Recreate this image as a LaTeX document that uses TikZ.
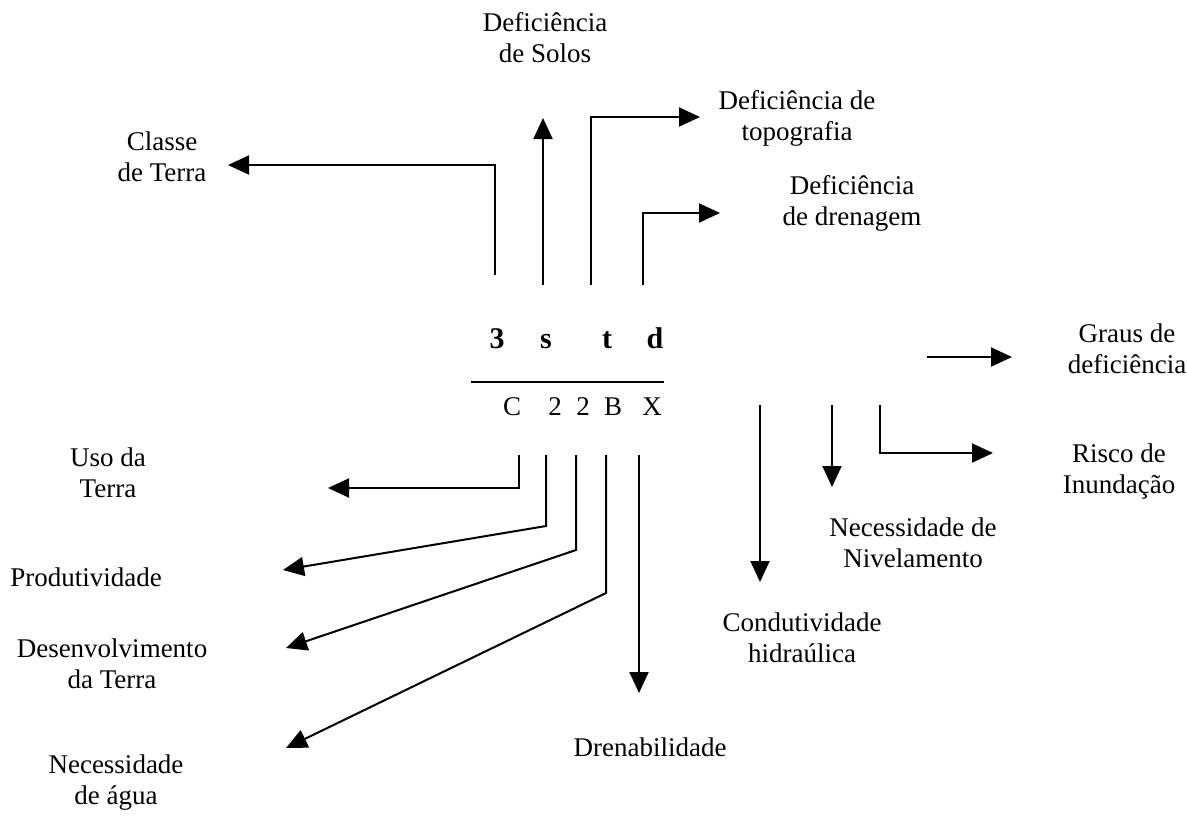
\documentclass[tikz,border=0pt]{standalone}
\usepackage{fontspec}
\setmainfont{Liberation Serif}
\usetikzlibrary{arrows.meta}
\begin{document}
\begin{tikzpicture}[x=0.5pt,y=-0.5pt,
  lbl/.style={font=\fontsize{13.5}{15.5}\selectfont, align=center, inner sep=0pt},
  code/.style={font=\fontsize{15}{18}\selectfont\bfseries, anchor=base, inner sep=0pt},
  sub/.style={font=\fontsize{13.5}{16}\selectfont, anchor=base, inner sep=0pt},
  conn/.style={line width=1pt, -{Triangle[length=10.5pt,width=9.5pt]}},
  bar/.style={line width=1pt}]
\useasboundingbox (0,0) rectangle (1187,815);

% code letters
\node[code] (c3) at (497,348) {3};
\node[code] (cs) at (546,348) {s};
\node[code] (ct) at (607,348) {t};
\node[code] (cd) at (655,348) {d};
\coordinate (barL) at (471,382);
\coordinate (barR) at (664,382);
\draw[bar] (barL) -- (barR);
\node[sub] (sC) at (512,415) {C};
\node[sub] (s2a) at (555,415) {2};
\node[sub] (s2b) at (583,415) {2};
\node[sub] (sB) at (613,415) {B};
\node[sub] (sX) at (652,415) {X};

% labels
\node[lbl] (classe) at (162,157) {Classe\\de Terra};
\node[lbl] (solos) at (545,38) {Deficiência\\de Solos};
\node[lbl] (topo) at (797,118) {Deficiência de\\topografia};
\node[lbl] (dren) at (852,203) {Deficiência\\de drenagem};
\node[lbl] (graus) at (1127,349) {Graus de\\deficiência};
\node[lbl] (risco) at (1119,471) {Risco de\\Inundação};
\node[lbl] (nivel) at (913,543) {Necessidade de\\Nivelamento};
\node[lbl] (condut) at (802,638) {Condutividade\\hidraúlica};
\node[lbl] (drenab) at (650,747) {Drenabilidade};
\node[lbl] (uso) at (108,473) {Uso da\\Terra};
\node[lbl] (prod) at (86,577) {Produtividade};
\node[lbl] (desenv) at (112,664) {Desenvolvimento\\da Terra};
\node[lbl] (neces) at (116,783) {Necessidade\\de água};

% connector coordinates
\coordinate (a1) at (495,275); \coordinate (e1) at (228,165);
\coordinate (a2) at (543,285); \coordinate (e2) at (543,118);
\coordinate (a3) at (591,285); \coordinate (e3) at (700,117);
\coordinate (a4) at (643,285); \coordinate (e4) at (720,213);
\coordinate (a5) at (927,357); \coordinate (e5) at (1012,357);
\coordinate (a6) at (760,405); \coordinate (e6) at (760,582);
\coordinate (a7) at (832,405); \coordinate (e7) at (832,487);
\coordinate (a8) at (880,405); \coordinate (e8) at (993,453);
\coordinate (b1) at (519,455); \coordinate (f1) at (328,488);
\coordinate (b2) at (546,455); \coordinate (k2) at (546,526); \coordinate (f2) at (283,570);
\coordinate (b3) at (576,455); \coordinate (k3) at (576,550); \coordinate (f3) at (286,648);
\coordinate (b4) at (606,455); \coordinate (k4) at (606,593); \coordinate (f4) at (286,748);
\coordinate (b5) at (639,455); \coordinate (f5) at (639,693);

\draw[conn] (a1) |- (e1);
\draw[conn] (a2) -- (e2);
\draw[conn] (a3) |- (e3);
\draw[conn] (a4) |- (e4);
\draw[conn] (a5) -- (e5);
\draw[conn] (a6) -- (e6);
\draw[conn] (a7) -- (e7);
\draw[conn] (a8) |- (e8);
\draw[conn] (b1) |- (f1);
\draw[conn] (b2) -- (k2) -- (f2);
\draw[conn] (b3) -- (k3) -- (f3);
\draw[conn] (b4) -- (k4) -- (f4);
\draw[conn] (b5) -- (f5);
\end{tikzpicture}
\end{document}
